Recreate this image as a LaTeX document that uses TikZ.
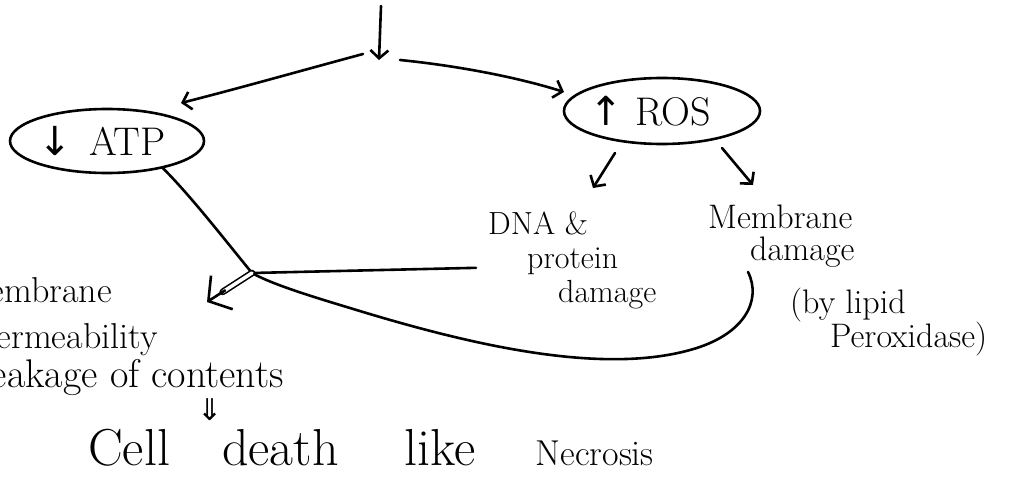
\documentclass[tikz,border=0pt]{standalone}
\usepackage{fontspec}
\newfontfamily\symfont{DejaVu Sans}
\usetikzlibrary{arrows.meta,shapes.geometric,calc}
\begin{document}
\begin{tikzpicture}[x=1pt,y=-1pt,
  ink/.style={line width=2.6pt, line cap=round, line join=round},
  arr/.style={ink, -{Straight Barb[length=8pt,width=18pt]}},
  bubble/.style={draw, ink, ellipse, minimum width=194pt, minimum height=64pt,
                 inner sep=0pt, font=\fontsize{40}{44}\selectfont},
  lbl/.style={inner sep=0pt, align=left, font=\fontsize{32}{34}\selectfont},
  side/.style={inner sep=0pt, anchor=base east, font=\fontsize{36}{38}\selectfont},
]
\useasboundingbox (0,0) rectangle (1019,479);

% arrow end points
\coordinate (src)   at (381,6);
\coordinate (hub)   at (379,60);
\coordinate (hubL)  at (363,54);
\coordinate (hubR)  at (400,60);
\coordinate (atpIn) at (181,103);
\coordinate (rosIn) at (564,92);
\coordinate (rosA)  at (615,153);
\coordinate (dnaIn) at (593,188);
\coordinate (rosB)  at (722,148);
\coordinate (memIn) at (753,185);
\coordinate (jn)    at (252,273);
\coordinate (tip)   at (207,302);

% main boxes (zero-width text boxes keep the ellipses at their set size)
\node[bubble] (atp) at (107,141)
  {\makebox[0pt]{{\symfont ↓}\hspace{17pt}ATP\hspace*{10pt}}};
\node[bubble, minimum width=196pt, minimum height=66pt] (ros) at (662,111)
  {\makebox[0pt]{{\symfont ↑}\hspace{12pt}ROS\hspace*{24pt}}};

% damage labels
\node[lbl, anchor=north west] (dna) at (488,212)
  {DNA \&\\\hspace*{39pt}protein\\\hspace*{70pt}damage};
\node[lbl, anchor=north west, font=\fontsize{34}{32}\selectfont] (memb) at (708,205)
  {Membrane\\\hspace*{42pt}damage};
\node[lbl, anchor=north west, font=\fontsize{34}{34}\selectfont] (lipid) at (790,288)
  {(by lipid\\\hspace*{40pt}Peroxidase)};

% outcome on the left
\node[side] (perm1) at (112,302) {Membrane};
\node[side] (perm2) at (158,348) {permeability};
\node[side, font=\fontsize{40}{42}\selectfont] (perm3) at (284,387) {leakage of contents};
\node[inner sep=0pt, font=\fontsize{30}{30}\selectfont\symfont] (dd) at (210,410) {⇓};
\node[inner sep=0pt, anchor=base west, font=\fontsize{52}{56}\selectfont] (death) at (88,465)
  {Cell\hspace{52pt}death\hspace{66pt}like\hspace{60pt}{\fontsize{36}{40}\selectfont Necrosis}};

% connectors
\draw[arr] (src) -- (hub);
\draw[arr] (hubL) .. controls (300,71) and (240,88) .. (atpIn);
\draw[arr] (hubR) .. controls (460,66) and (520,78) .. (rosIn);
\draw[arr] (rosA) -- (dnaIn);
\draw[arr] (rosB) -- (memIn);
\draw[ink] (atp.-26) .. controls (190,195) and (225,240) .. (jn);
\draw[ink] ([xshift=-12pt,yshift=-7pt]dna.west) -- (jn);
\draw[ink] ([xshift=40pt,yshift=-4pt]memb.south west)
  .. controls (762,300) and (745,335) .. (690,350)
  .. controls (600,375) and (470,345) .. (350,308)
  .. controls (300,293) and (270,283) .. (jn);
\draw[ink, line width=1.6pt, double, double distance=3.5pt] (jn) -- ($(jn)!0.65!(tip)$);
\draw[ink, -{Straight Barb[length=16pt,width=40pt]}] ($(jn)!0.6!(tip)$) -- (tip);
\end{tikzpicture}
\end{document}
